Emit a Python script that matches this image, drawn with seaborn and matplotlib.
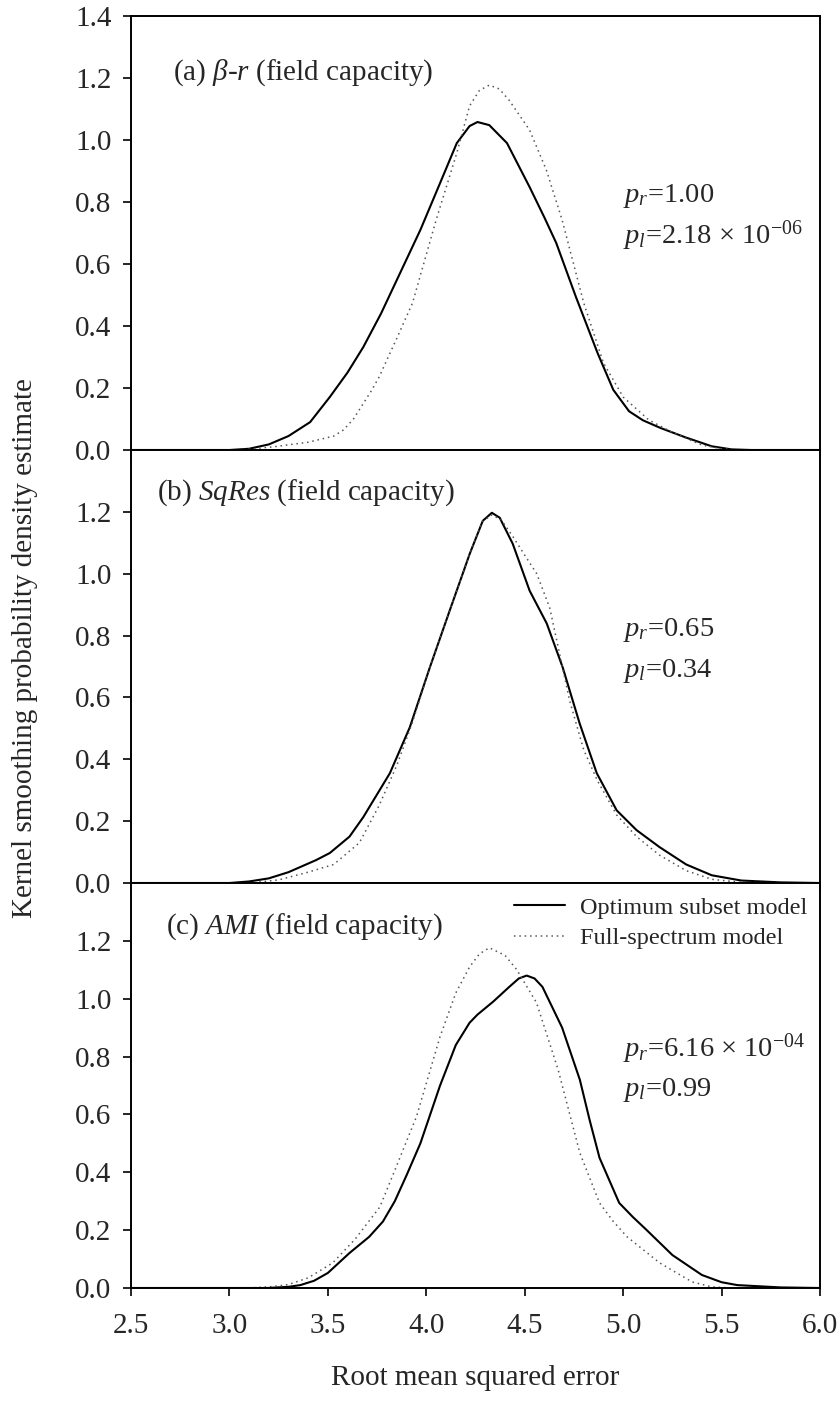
import matplotlib
matplotlib.use("Agg")
import matplotlib.pyplot as plt
import seaborn as sns

# Kernel density curves: RMSE vs density
# (a) beta-r
a_opt_x = [2.50, 3.00, 3.10, 3.20, 3.30, 3.41, 3.51, 3.60, 3.68, 3.77, 3.85, 3.97, 4.07, 4.155, 4.22, 4.26, 4.32, 4.41, 4.525, 4.60, 4.66, 4.76, 4.87, 4.95, 5.03, 5.10, 5.19, 5.32, 5.45, 5.55, 5.65, 6.00]
a_opt_y = [0.00, 0.00, 0.004, 0.018, 0.045, 0.09, 0.171, 0.25, 0.332, 0.44, 0.548, 0.71, 0.861, 0.99, 1.045, 1.058, 1.048, 0.99, 0.848, 0.75, 0.668, 0.494, 0.313, 0.194, 0.125, 0.096, 0.071, 0.04, 0.012, 0.002, 0.00, 0.00]
a_full_x = [2.50, 3.05, 3.22, 3.40, 3.53, 3.58, 3.63, 3.68, 3.72, 3.76, 3.85, 3.93, 4.05, 4.155, 4.22, 4.27, 4.32, 4.37, 4.42, 4.525, 4.61, 4.69, 4.80, 4.90, 5.00, 5.13, 5.24, 5.40, 5.50, 5.60, 6.00]
a_full_y = [0.00, 0.00, 0.01, 0.025, 0.045, 0.065, 0.10, 0.15, 0.19, 0.235, 0.36, 0.474, 0.742, 0.958, 1.11, 1.16, 1.177, 1.165, 1.129, 1.032, 0.903, 0.742, 0.474, 0.281, 0.171, 0.097, 0.06, 0.016, 0.004, 0.00, 0.00]
# (b) SqRes
b_opt_x = [2.50, 3.00, 3.10, 3.20, 3.30, 3.44, 3.51, 3.61, 3.68, 3.815, 3.916, 4.018, 4.119, 4.221, 4.287, 4.333, 4.373, 4.439, 4.525, 4.612, 4.693, 4.779, 4.866, 4.967, 5.068, 5.185, 5.32, 5.45, 5.60, 5.80, 6.00]
b_opt_y = [0.00, 0.00, 0.005, 0.015, 0.035, 0.074, 0.097, 0.15, 0.213, 0.355, 0.503, 0.697, 0.881, 1.065, 1.171, 1.197, 1.181, 1.097, 0.945, 0.839, 0.697, 0.516, 0.355, 0.235, 0.171, 0.116, 0.06, 0.025, 0.008, 0.002, 0.00]
b_full_x = [2.50, 3.10, 3.25, 3.40, 3.53, 3.66, 3.76, 3.85, 3.93, 4.018, 4.119, 4.221, 4.287, 4.333, 4.38, 4.44, 4.50, 4.561, 4.627, 4.728, 4.80, 4.87, 4.967, 5.068, 5.185, 5.32, 5.45, 5.60, 6.00]
b_full_y = [0.00, 0.00, 0.01, 0.035, 0.06, 0.13, 0.25, 0.38, 0.52, 0.697, 0.881, 1.065, 1.17, 1.19, 1.175, 1.12, 1.06, 1.00, 0.89, 0.59, 0.43, 0.33, 0.22, 0.15, 0.09, 0.04, 0.012, 0.002, 0.00]
# (c) AMI
c_opt_x = [2.50, 3.19, 3.30, 3.36, 3.43, 3.50, 3.61, 3.71, 3.78, 3.84, 3.90, 3.97, 4.07, 4.15, 4.22, 4.26, 4.34, 4.42, 4.47, 4.51, 4.55, 4.59, 4.69, 4.78, 4.83, 4.88, 4.98, 5.05, 5.12, 5.25, 5.40, 5.50, 5.58, 5.80, 6.00]
c_opt_y = [0.00, 0.00, 0.004, 0.01, 0.025, 0.052, 0.121, 0.177, 0.23, 0.30, 0.39, 0.50, 0.70, 0.84, 0.917, 0.945, 0.99, 1.04, 1.07, 1.08, 1.07, 1.041, 0.90, 0.72, 0.58, 0.45, 0.294, 0.245, 0.20, 0.114, 0.045, 0.02, 0.01, 0.002, 0.00]
c_full_x = [2.50, 3.10, 3.22, 3.30, 3.40, 3.525, 3.64, 3.764, 3.83, 3.95, 4.07, 4.15, 4.22, 4.27, 4.32, 4.40, 4.46, 4.56, 4.67, 4.78, 4.88, 4.95, 5.02, 5.185, 5.35, 5.45, 5.55, 6.00]
c_full_y = [0.00, 0.00, 0.005, 0.012, 0.035, 0.087, 0.17, 0.28, 0.39, 0.592, 0.869, 1.02, 1.11, 1.155, 1.176, 1.15, 1.10, 0.986, 0.754, 0.467, 0.294, 0.23, 0.177, 0.087, 0.021, 0.004, 0.00, 0.00]

panel_labels = ["(a) $β$-$r$ (field capacity)",
                r"(b) $\mathit{SqRes}$ (field capacity)",
                r"(c) $\mathit{AMI}$ (field capacity)"]
pr_text = ["$p_r$=1.00", "$p_r$=0.65", "$p_r$=6.16 × 10$^{-04}$"]
pl_text = ["$p_l$=2.18 × 10$^{-06}$", "$p_l$=0.34", "$p_l$=0.99"]
series_names = ["Optimum subset model", "Full-spectrum model"]

sns.set_theme(style="ticks")
plt.rcParams["font.family"] = ["Liberation Serif", "DejaVu Serif"]
plt.rcParams["mathtext.fontset"] = "custom"
plt.rcParams["mathtext.rm"] = "Liberation Serif"
plt.rcParams["mathtext.it"] = "Liberation Serif:italic"

fig = plt.figure(figsize=(8.4, 14.26), dpi=100)
W, H = 840, 1426
left, right = 131 / W, 820 / W
bounds = [(16, 450), (450, 883), (883, 1288)]
axes = []
for top, bot in bounds:
    axes.append(fig.add_axes([left, 1 - bot / H, right - left, (bot - top) / H]))

curves = [(a_opt_x, a_opt_y, a_full_x, a_full_y),
          (b_opt_x, b_opt_y, b_full_x, b_full_y),
          (c_opt_x, c_opt_y, c_full_x, c_full_y)]
label_pos = [(2.713, 1.216), (2.632, 1.261), (2.678, 1.249)]

for i, ax in enumerate(axes):
    ox, oy, fx, fy = curves[i]
    sns.lineplot(x=ox, y=oy, ax=ax, sort=False, estimator=None, color="black",
                 linewidth=1.5, label=series_names[0])
    sns.lineplot(x=fx, y=fy, ax=ax, sort=False, estimator=None, color="#555555",
                 linewidth=1.1, linestyle=(0, (1, 2.5)), label=series_names[1])
    ax.set_xlim(2.5, 6.0)
    ax.set_ylim(0, 1.4)
    ax.set_xticks([2.5, 3.0, 3.5, 4.0, 4.5, 5.0, 5.5, 6.0])
    if i == 0:
        ax.set_yticks([0.0, 0.2, 0.4, 0.6, 0.8, 1.0, 1.2, 1.4])
    else:
        ax.set_yticks([0.0, 0.2, 0.4, 0.6, 0.8, 1.0, 1.2])
    ax.yaxis.set_major_formatter(matplotlib.ticker.FormatStrFormatter("%.1f"))
    ax.xaxis.set_major_formatter(matplotlib.ticker.FormatStrFormatter("%.1f"))
    ax.tick_params(direction="out", length=6, width=1.2, labelsize=21, color="black")
    ax.tick_params(axis="y", pad=8)
    ax.tick_params(axis="x", pad=12)
    if i < 2:
        ax.tick_params(axis="x", labelbottom=False)
    ax.set_xlabel("")
    ax.set_ylabel("")
    for sp in ax.spines.values():
        sp.set_visible(True)
        sp.set_linewidth(1.4)
        sp.set_color("black")
    ax.text(label_pos[i][0], label_pos[i][1], panel_labels[i], fontsize=21, va="center", ha="left")
    ax.text(5.0, 0.80, pr_text[i], fontsize=20.5, ha="left", va="baseline")
    ax.text(5.0, 0.665, pl_text[i], fontsize=20.5, ha="left", va="baseline")
    if i == 2:
        ax.legend(loc="upper right", bbox_to_anchor=(1.013, 1.02), frameon=False, fontsize=17.5,
                  handlelength=2.1, handletextpad=0.6, labelspacing=0.35)
    else:
        ax.get_legend().remove()

fig.text(25 / W, 1 - 648 / H, "Kernel smoothing probability density estimate",
         rotation=90, ha="center", va="center", fontsize=21)
fig.text(475 / W, 1 - 1378 / H, "Root mean squared error", ha="center", va="center", fontsize=21)

fig.savefig("out.png", dpi=100)
